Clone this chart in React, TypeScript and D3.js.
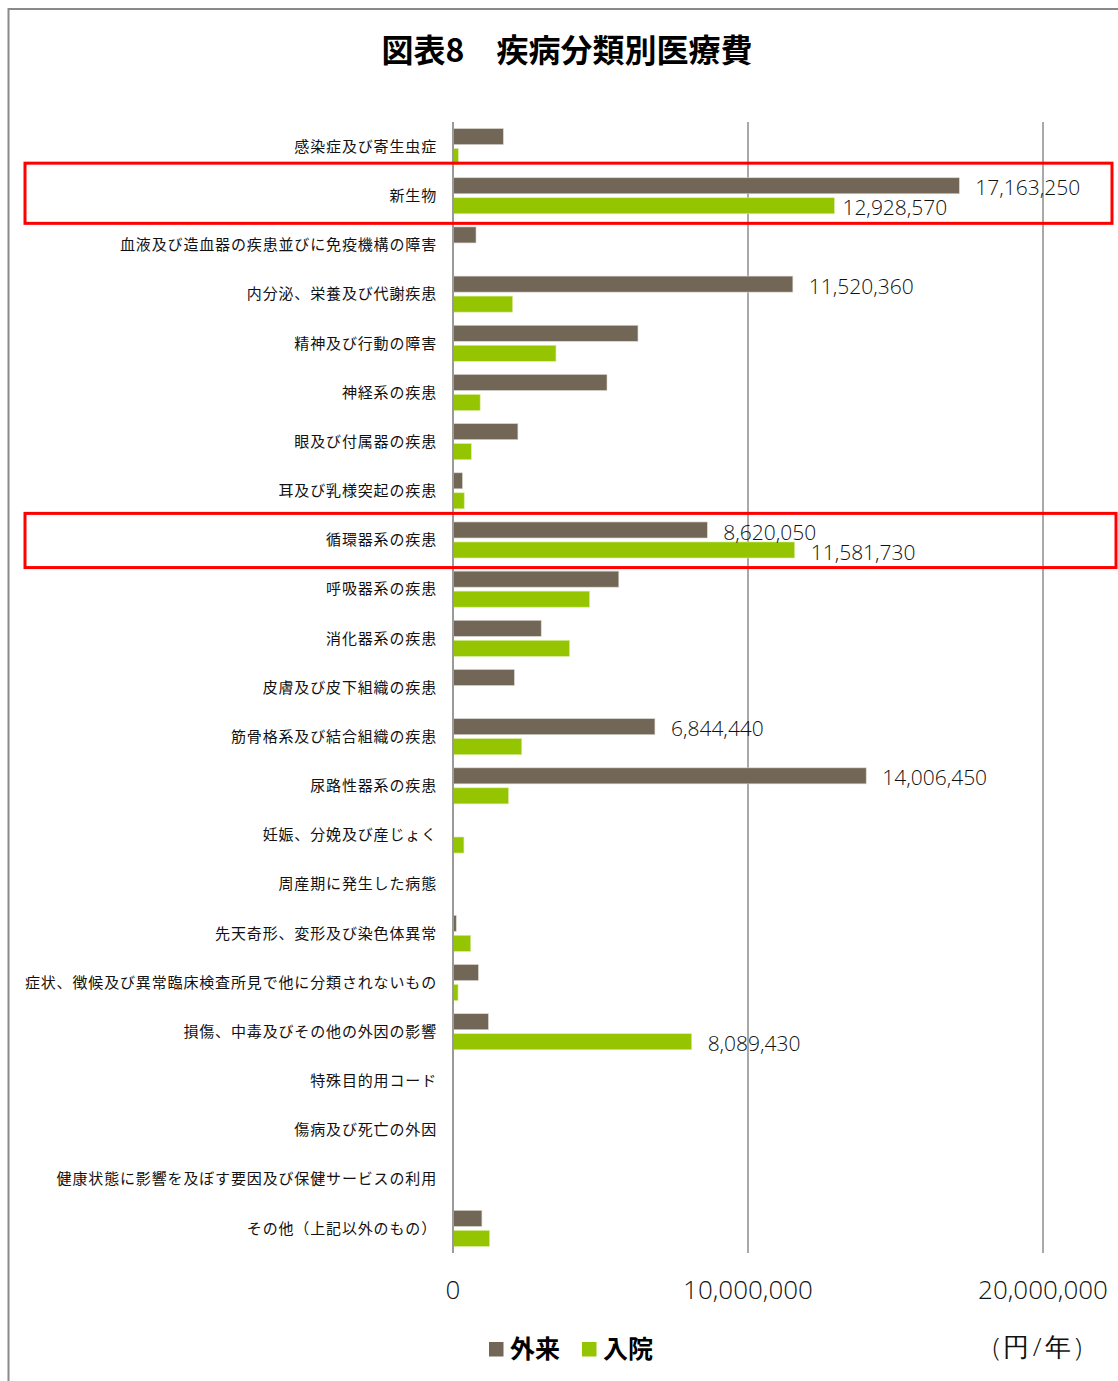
import React from "react";
import * as d3 from "d3";

const categories = [
  "感染症及び寄生虫症",
  "新生物",
  "血液及び造血器の疾患並びに免疫機構の障害",
  "内分泌、栄養及び代謝疾患",
  "精神及び行動の障害",
  "神経系の疾患",
  "眼及び付属器の疾患",
  "耳及び乳様突起の疾患",
  "循環器系の疾患",
  "呼吸器系の疾患",
  "消化器系の疾患",
  "皮膚及び皮下組織の疾患",
  "筋骨格系及び結合組織の疾患",
  "尿路性器系の疾患",
  "妊娠、分娩及び産じょく",
  "周産期に発生した病態",
  "先天奇形、変形及び染色体異常",
  "症状、徴候及び異常臨床検査所見で他に分類されないもの",
  "損傷、中毒及びその他の外因の影響",
  "特殊目的用コード",
  "傷病及び死亡の外因",
  "健康状態に影響を及ぼす要因及び保健サービスの利用",
  "その他（上記以外のもの）",
];

const outpatient = [
  1705000, 17163250, 780000, 11520360, 6270000, 5220000, 2200000, 320000,
  8620050, 5620000, 2990000, 2080000, 6844440, 14006450, 0, 0, 110000,
  860000, 1200000, 0, 0, 0, 980000,
];

const inpatient = [
  180000, 12928570, 0, 2020000, 3490000, 920000, 620000, 380000, 11581730,
  4630000, 3950000, 0, 2330000, 1880000, 370000, 0, 600000, 170000, 8089430,
  0, 0, 0, 1240000,
];

const labeledOutpatient = [
  "新生物",
  "内分泌、栄養及び代謝疾患",
  "循環器系の疾患",
  "筋骨格系及び結合組織の疾患",
  "尿路性器系の疾患",
];
const labeledInpatient = ["新生物", "循環器系の疾患", "損傷、中毒及びその他の外因の影響"];

const highlighted = ["新生物", "循環器系の疾患"];

const xTicks = [0, 10000000, 20000000];
const seriesNames = ["外来", "入院"];
const title = "図表8　疾病分類別医療費";
const unitLabel = "(円/年)";

const COLORS = { out: "#726756", in: "#95c500" };
const NUM_FONT = "'Open Sans', 'Lato', sans-serif";
const JP_FONT = "'Noto Sans CJK JP', 'Noto Sans', sans-serif";

export default function App() {
  const W = 1118;
  const H = 1381;
  const x = d3.scaleLinear().domain([0, 20000000]).range([453, 1043]);
  const y = d3.scaleBand<string>().domain(categories).range([122, 1253]).padding(0);
  const bw = y.bandwidth();
  const barH = 16;
  const fmt = d3.format(",");

  const boxAdjust: Record<string, [number, number, number]> = {
    // [top offset, bottom offset, right edge]
    "新生物": [-8, 3, 1112],
    "循環器系の疾患": [-2, 3, 1116],
  };
  const labelNudge: Record<string, number> = { "新生物|in": -8 };

  return (
    <svg width={W} height={H} style={{ display: "block", position: "absolute", left: 0, top: 0, background: "#fff" }}>
      <rect x={0} y={0} width={W} height={H} fill="#fff" />
      {/* frame */}
      <line x1={8.5} y1={8} x2={8.5} y2={H} stroke="#8a8a8a" strokeWidth={2} />
      <line x1={8} y1={9} x2={W} y2={9} stroke="#8a8a8a" strokeWidth={2} />

      <text
        x={567}
        y={62}
        textAnchor="middle"
        fontFamily={JP_FONT}
        fontWeight={700}
        fontSize={32}
        fill="#000"
      >
        {title}
      </text>

      {/* gridlines */}
      {xTicks.slice(1).map((t) => (
        <line key={t} x1={x(t)} x2={x(t)} y1={122} y2={1253} stroke="#8c8c8c" strokeWidth={1.5} />
      ))}

      {/* bars */}
      {categories.map((c, i) => {
        const cy = (y(c) as number) + bw / 2;
        return (
          <g key={c}>
            {outpatient[i] > 0 && (
              <rect
                x={x(0)}
                y={cy - barH - 2}
                width={x(outpatient[i]) - x(0)}
                height={barH}
                fill={COLORS.out}
                stroke="#d8d4cf"
                strokeWidth={0.6}
              />
            )}
            {inpatient[i] > 0 && (
              <rect
                x={x(0)}
                y={cy + 2}
                width={x(inpatient[i]) - x(0)}
                height={barH}
                fill={COLORS.in}
                stroke="#d6ec9a"
                strokeWidth={0.6}
              />
            )}
          </g>
        );
      })}

      {/* zero axis */}
      <line x1={x(0)} x2={x(0)} y1={122} y2={1253} stroke="#9a9a9a" strokeWidth={2} />

      {/* category labels */}
      {categories.map((c) => (
        <text
          key={c}
          x={437}
          y={(y(c) as number) + bw / 2}
          dy="0.35em"
          textAnchor="end"
          fontFamily={JP_FONT}
          fontSize={15}
          letterSpacing={0.85}
          fill="#111"
        >
          {c}
        </text>
      ))}

      {/* data labels */}
      {categories.map((c, i) => {
        const cy = (y(c) as number) + bw / 2;
        const items: React.ReactNode[] = [];
        if (labeledOutpatient.includes(c)) {
          items.push(
            <text
              key={c + "o"}
              x={x(outpatient[i]) + 16 + (labelNudge[c + "|out"] || 0)}
              y={cy - barH / 2}
              dy="0.36em"
              fontFamily={NUM_FONT}
              fontWeight={300}
              fontSize={21}
              fill="#111"
            >
              {fmt(outpatient[i])}
            </text>
          );
        }
        if (labeledInpatient.includes(c)) {
          items.push(
            <text
              key={c + "i"}
              x={x(inpatient[i]) + 16 + (labelNudge[c + "|in"] || 0)}
              y={cy + 2 + barH / 2 + 2}
              dy="0.36em"
              fontFamily={NUM_FONT}
              fontWeight={300}
              fontSize={21}
              fill="#111"
            >
              {fmt(inpatient[i])}
            </text>
          );
        }
        return <g key={c}>{items}</g>;
      })}

      {/* x tick labels */}
      {xTicks.map((t) => (
        <text
          key={t}
          x={x(t)}
          y={1290}
          dy="0.36em"
          textAnchor="middle"
          fontFamily={NUM_FONT}
          fontWeight={300}
          fontSize={26}
          fill="#111"
        >
          {fmt(t)}
        </text>
      ))}

      {/* highlight boxes */}
      {highlighted.map((c) => {
        const adj = boxAdjust[c] || [-3, 3, 1114];
        const top = (y(c) as number) + adj[0];
        const bottom = (y(c) as number) + bw + adj[1];
        return (
          <rect
            key={c}
            x={25}
            y={top}
            width={adj[2] - 25}
            height={bottom - top}
            fill="none"
            stroke="#ff0000"
            strokeWidth={3}
          />
        );
      })}

      {/* legend */}
      <g>
        <rect x={489} y={1342} width={14.5} height={14.5} fill={COLORS.out} />
        <text x={510} y={1349} dy="0.36em" fontFamily={JP_FONT} fontWeight={700} fontSize={25} fill="#000">
          {seriesNames[0]}
        </text>
        <rect x={582} y={1342} width={14.5} height={14.5} fill={COLORS.in} />
        <text x={603} y={1349} dy="0.36em" fontFamily={JP_FONT} fontWeight={700} fontSize={25} fill="#000">
          {seriesNames[1]}
        </text>
      </g>
      <text
        x={1039}
        y={1347}
        dy="0.36em"
        textAnchor="middle"
        fontFamily={NUM_FONT}
        fontWeight={300}
        fontSize={26}
        letterSpacing={3.5}
        fill="#111"
      >
        {unitLabel}
      </text>
    </svg>
  );
}
